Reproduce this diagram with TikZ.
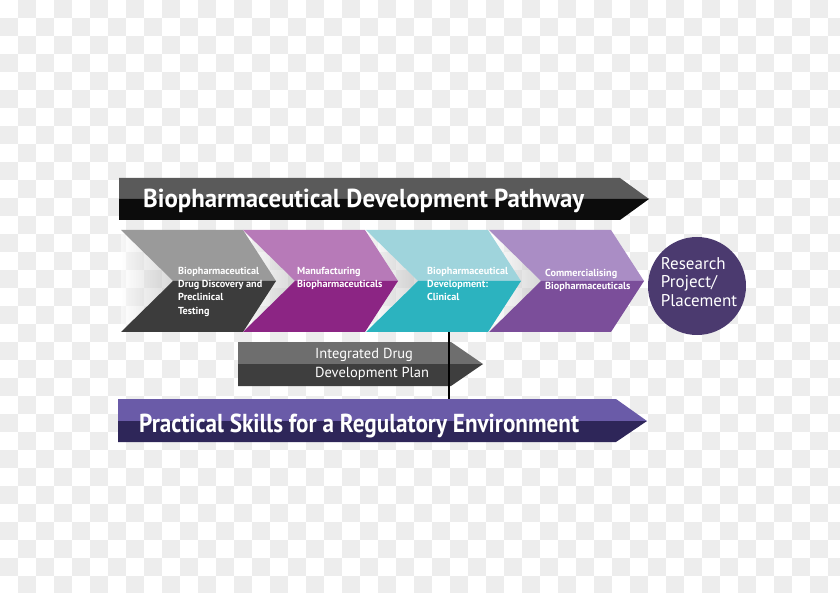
\documentclass[tikz,border=0pt]{standalone}
\usepackage{fontspec}
\setmainfont{PT Sans}
\usetikzlibrary{positioning}

\definecolor{checkgray}{HTML}{EDEDED}
\definecolor{pathtop}{HTML}{5A5A5A}
\definecolor{pathbot}{HTML}{0C0C0C}
\definecolor{discup}{HTML}{9A9A9A}
\definecolor{disclo}{HTML}{3C3C3C}
\definecolor{manuup}{HTML}{B77AB8}
\definecolor{manulo}{HTML}{8C2584}
\definecolor{clinup}{HTML}{9FD4DC}
\definecolor{clinlo}{HTML}{2CB3BF}
\definecolor{commup}{HTML}{AA8DC5}
\definecolor{commlo}{HTML}{7B4E9A}
\definecolor{planup}{HTML}{6E6E6E}
\definecolor{planlo}{HTML}{3E3E3E}
\definecolor{skillup}{HTML}{6A5BA8}
\definecolor{skilllo}{HTML}{2E2659}
\definecolor{research}{HTML}{4B3A6F}

\tikzset{
  bannertext/.style={anchor=base west, inner sep=0pt, text=white, font=\bfseries\fontsize{26}{30}\selectfont},
  stagetext/.style={anchor=north west, inner sep=0pt, text=white, align=left,
    font=\bfseries\fontsize{10.2}{13.2}\selectfont},
  plantext/.style={anchor=north west, inner sep=0pt, text=white, align=left,
    font=\fontsize{14.5}{19.5}\selectfont},
  circletext/.style={inner sep=0pt, text=white, align=left,
    font=\fontsize{17}{18.5}\selectfont},
  notchshade/.style={left color=white, right color=black!28, opacity=0.55}
}

\begin{document}
\begin{tikzpicture}[x=1pt, y=-1pt]
\useasboundingbox (0,0) rectangle (840,593);

% checkerboard background
\foreach \i in {0,...,46}
  \foreach \j in {0,...,32}
    {\ifodd\numexpr\i+\j\relax
       \fill[checkgray] (18*\i,18*\j) rectangle +(18,18);
     \fi}

% top banner
\fill[pathtop] (119,178) -- (620,178) -- (649,199) -- (119,199) -- cycle;
\fill[pathbot] (119,199) -- (649,199) -- (620,220) -- (119,220) -- cycle;
\node[bannertext, xscale=0.955] (pathway) at (143,208) {Biopharmaceutical Development Pathway};

% shadows in the chevron notches
\foreach \x in {121,243,366,489}
  \shade[notchshade] (\x,230) -- (\x+52,281) -- (\x,332) -- cycle;

% chevrons
\foreach \x/\up/\lo in {121/discup/disclo, 243/manuup/manulo, 366/clinup/clinlo, 489/commup/commlo}
{
  \fill[\up] (\x,230) -- (\x+122,230) -- (\x+155,281) -- (\x+52,281) -- cycle;
  \fill[\lo] (\x+52,281) -- (\x+155,281) -- (\x+122,332) -- (\x,332) -- cycle;
}
\node[stagetext] (discovery) at (178,267) {Biopharmaceutical\\Drug Discovery and\\Preclinical\\Testing};
\node[stagetext] (manufacturing) at (297,267) {Manufacturing\\Biopharmaceuticals};
\node[stagetext] (clinical) at (427,267) {Biopharmaceutical\\Development:\\Clinical};
\node[stagetext] (commercial) at (545,269) {Commercialising\\Biopharmaceuticals};

% research project
\fill[research] (697,286) circle (49);
\node[circletext] (project) at (699,282) {Research\\Project/\\Placement};

% integrated plan
\fill[planup] (238,342) -- (451,342) -- (483,364) -- (238,364) -- cycle;
\fill[planlo] (238,364) -- (483,364) -- (451,386) -- (238,386) -- cycle;
\node[plantext] (plan) at (315,348) {Integrated Drug\\Development Plan};

% bottom banner
\fill[skillup] (118,399) -- (616,399) -- (647,421) -- (118,421) -- cycle;
\fill[skilllo] (118,421) -- (647,421) -- (616,442) -- (118,442) -- cycle;
\node[bannertext, xscale=0.89] (skills) at (139,432) {Practical Skills for a Regulatory Environment};

% link from clinical stage to skills
\coordinate (clinical-foot) at (449,332);
\coordinate (skills-top) at (449,399);
\draw[black, line width=1.2pt] (clinical-foot) -- (skills-top);
\end{tikzpicture}
\end{document}
